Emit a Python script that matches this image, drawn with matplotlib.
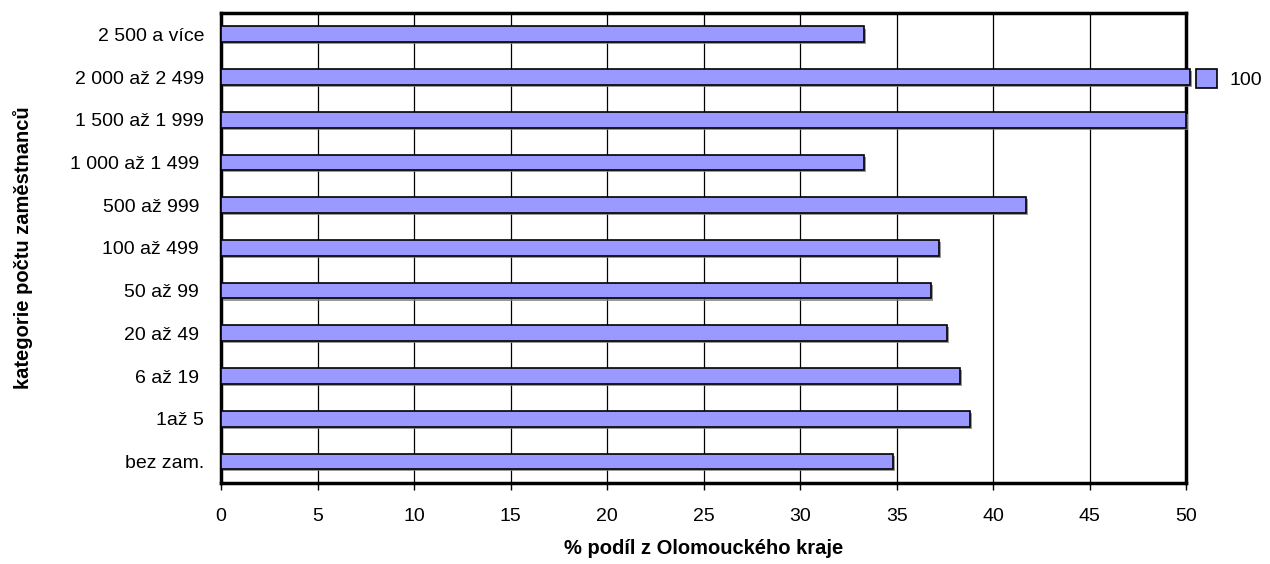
import matplotlib.pyplot as plt
import matplotlib.patheffects as pe
from matplotlib.patches import Patch

plt.rcParams['font.family'] = ['Liberation Sans', 'DejaVu Sans']

categories = ['bez zam.', '1až 5', '6 až 19 ', '20 až 49 ', '50 až 99 ', '100 až 499 ',
              '500 až 999 ', '1 000 až 1 499 ', '1 500 až 1 999', '2 000 až 2 499',
              '2 500 a více']
values = [34.8, 38.8, 38.3, 37.6, 36.8, 37.2, 41.7, 33.3, 50.0, 50.2, 33.3]
xticks = [0, 5, 10, 15, 20, 25, 30, 35, 40, 45, 50]
series_name = '100'

fig = plt.figure(figsize=(12.7, 5.64), dpi=100)
ax = fig.add_axes([0.174, 0.144, 0.760, 0.833])

bars = ax.barh(range(len(categories)), values, height=0.37, color='#9999FF',
               edgecolor='black', linewidth=1.2, zorder=3, clip_on=False)
for b in bars:
    b.set_path_effects([pe.SimplePatchShadow(offset=(1.5, -1.5), shadow_rgbFace='#808080', alpha=0.8),
                        pe.Normal()])

ax.set_xlim(0, 50)
ax.set_ylim(-0.5, len(categories) - 0.5)
ax.set_xticks(xticks)
ax.set_yticks(range(len(categories)))
ax.set_yticklabels(categories, fontsize=14)
ax.tick_params(axis='x', labelsize=14, length=5, width=1, direction='out', pad=13)
ax.tick_params(axis='y', length=0, pad=12)
ax.grid(axis='x', color='black', linewidth=0.9, zorder=1)
for s in ax.spines.values():
    s.set_linewidth(2.5)

ax.set_xlabel('% podíl z Olomouckého kraje', fontsize=14.5, fontweight='bold')
ax.set_ylabel('kategorie počtu zaměstnanců', fontsize=14.5, fontweight='bold')
ax.xaxis.set_label_coords(0.5, -0.12)
ax.yaxis.set_label_coords(-0.195, 0.5)

handle = Patch(facecolor='#9999FF', edgecolor='black', linewidth=1.2)
fig.legend([handle], [series_name], loc='center left', bbox_to_anchor=(0.928, 0.86),
           frameon=False, fontsize=14, handlelength=1.1, handleheight=1.1, handletextpad=0.6)

fig.savefig('out.png', dpi=100)
